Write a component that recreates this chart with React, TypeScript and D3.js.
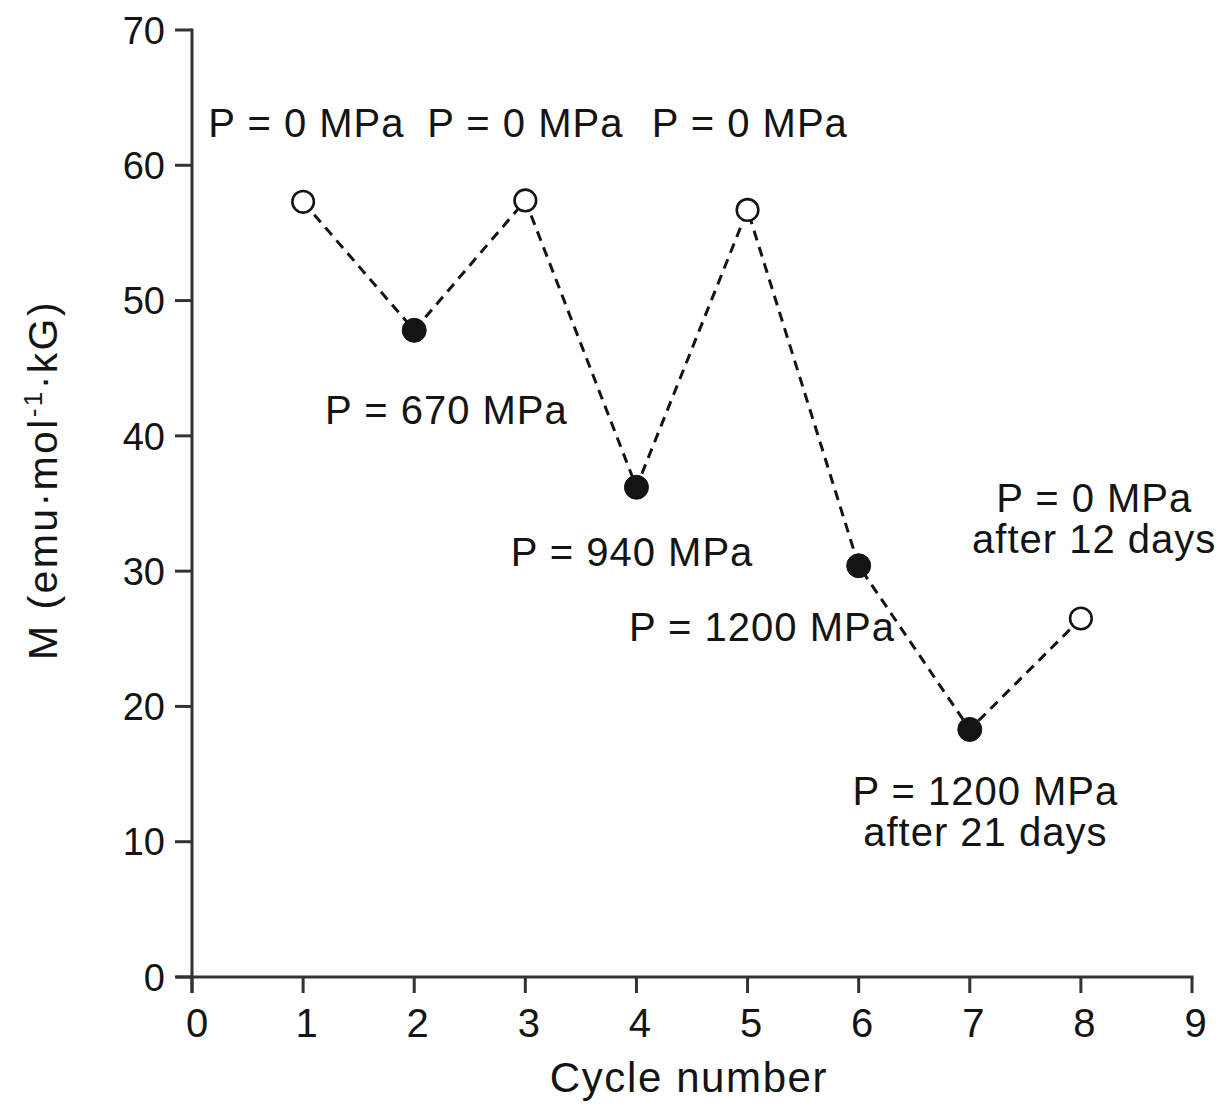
import React from "react";
import * as d3 from "d3";

const cycles = [1, 2, 3, 4, 5, 6, 7, 8];
const magnetization = [57.3, 47.8, 57.4, 36.2, 56.7, 30.4, 18.3, 26.5];
const pressured = [false, true, false, true, false, true, true, false];
const xTicks = [0, 1, 2, 3, 4, 5, 6, 7, 8, 9];
const yTicks = [0, 10, 20, 30, 40, 50, 60, 70];

const annoX = [1.03, 3.0, 5.02, 2.29, 3.96, 5.13, 7.14, 8.12];
const annoY = [62.1, 62.1, 62.1, 40.9, 30.4, 24.8, 12.7, 34.4];
const annoLines = [
  ["P = 0 MPa"],
  ["P = 0 MPa"],
  ["P = 0 MPa"],
  ["P = 670 MPa"],
  ["P = 940 MPa"],
  ["P = 1200 MPa"],
  ["P = 1200 MPa", "after 21 days"],
  ["P = 0 MPa", "after 12 days"],
];

const W = 1219;
const H = 1106;
const left = 192;
const right = 1192;
const top = 30;
const bottom = 977;
const ink = "#141414";
const axisInk = "#333";
const font = "'Liberation Sans', Arial, Helvetica, sans-serif";

export default function App() {
  const x = d3.scaleLinear().domain([0, 9]).range([left, right]);
  const y = d3.scaleLinear().domain([0, 70]).range([bottom, top]);
  const line = d3
    .line<number>()
    .x((_, i) => x(cycles[i]))
    .y((d) => y(d));

  return (
    <svg
      width={W}
      height={H}
      style={{ position: "absolute", left: 0, top: 0, background: "#fff" }}
      fontFamily={font}
    >
      {/* axes */}
      <line x1={left} x2={left} y1={y(70) - 1.5} y2={bottom + 16} stroke={axisInk} strokeWidth={3} />
      <line x1={left - 16} x2={right + 1.5} y1={bottom} y2={bottom} stroke={axisInk} strokeWidth={3} />
      {yTicks.map((t) => (
        <g key={"y" + t}>
          <line x1={left - 17} x2={left} y1={y(t)} y2={y(t)} stroke={axisInk} strokeWidth={3} />
          <text
            x={left - 27}
            y={y(t)}
            dy="0.36em"
            textAnchor="end"
            fontSize={38}
            fill={ink}
          >
            {t}
          </text>
        </g>
      ))}
      {xTicks.map((t) => (
        <g key={"x" + t}>
          <line x1={x(t)} x2={x(t)} y1={bottom} y2={bottom + 16} stroke={axisInk} strokeWidth={3} />
          <text x={x(t) + (t === 0 ? 5 : 3.5)} y={bottom + 60} textAnchor="middle" fontSize={40} fill={ink}>
            {t}
          </text>
        </g>
      ))}
      <text
        x={689}
        y={1092}
        textAnchor="middle"
        fontSize={42}
        letterSpacing={1.6}
        fill={ink}
      >
        Cycle number
      </text>
      <text
        transform={`translate(57, 480) rotate(-90)`}
        textAnchor="middle"
        fontSize={41}
        letterSpacing={2.4}
        fill={ink}
      >
        M (emu·mol
        <tspan fontSize={26} dy={-15}>
          -1
        </tspan>
        <tspan dy={15}>·kG)</tspan>
      </text>

      {/* data line */}
      <path
        d={line(magnetization) || ""}
        fill="none"
        stroke={ink}
        strokeWidth={3}
        strokeDasharray="10 7"
      />
      {magnetization.map((v, i) => (
        <circle
          key={"p" + i}
          cx={x(cycles[i])}
          cy={y(v)}
          r={pressured[i] ? 12 : 10.8}
          fill={pressured[i] ? ink : "#fff"}
          stroke={ink}
          strokeWidth={pressured[i] ? 1 : 2.6}
        />
      ))}

      {/* annotations */}
      {annoLines.map((lines, i) => (
        <text
          key={"a" + i}
          x={x(annoX[i])}
          y={y(annoY[i])}
          textAnchor="middle"
          fontSize={40}
          letterSpacing={1}
          fill={ink}
        >
          {lines.map((l, j) => (
            <tspan key={j} x={x(annoX[i])} dy={j === 0 ? 0 : 41}>
              {l}
            </tspan>
          ))}
        </text>
      ))}
    </svg>
  );
}
